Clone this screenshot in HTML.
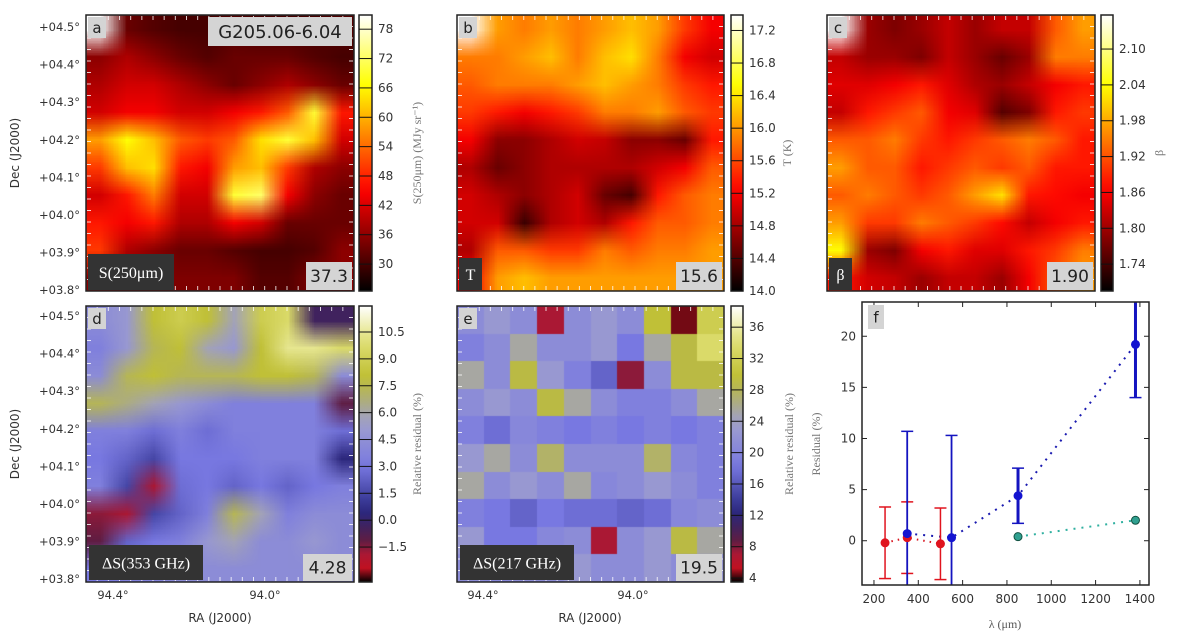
<!DOCTYPE html>
<html><head><meta charset="utf-8">
<style>
html,body{margin:0;padding:0;background:#fff;width:1200px;height:636px;overflow:hidden}
#wrap{position:relative;width:1200px;height:636px}
canvas{position:absolute}
svg{position:absolute;left:0;top:0}
</style></head><body>
<div id="wrap">
<canvas id="ca" width="268" height="276" style="left:86px;top:15px"></canvas>
<canvas id="cb" width="267" height="276" style="left:457px;top:15px"></canvas>
<canvas id="cc" width="268" height="276" style="left:827px;top:15px"></canvas>
<canvas id="cd" width="268" height="276" style="left:86px;top:306px"></canvas>
<canvas id="ce" width="267" height="276" style="left:457px;top:306px"></canvas>
<svg id="svg" width="1200" height="636"></svg>
</div>
<script>
// ---- heatmap data (normalized colour-scale values, -1 = masked) ----
const gridA=[
[-1,0.15,0.12,0.1,0.1,0.12,0.1,0.1,0.1,0.12],
[0.2,0.25,0.2,0.15,0.12,0.15,0.15,0.15,0.12,0.1],
[0.25,0.3,0.3,0.25,0.2,0.15,0.2,0.25,0.2,0.15],
[0.3,0.35,0.35,0.3,0.3,0.35,0.4,0.5,0.8,0.4],
[0.6,0.75,0.65,0.5,0.45,0.5,0.7,0.8,0.65,0.3],
[0.45,0.65,0.7,0.4,0.35,0.6,0.65,0.45,0.25,0.2],
[0.3,0.4,0.55,0.3,0.3,0.8,0.85,0.35,0.2,0.15],
[0.4,0.35,0.4,0.25,0.25,0.35,0.3,0.15,0.15,0.15],
[0.45,0.25,0.2,0.15,0.15,0.12,0.1,0.1,0.12,0.2],
[0.2,0.18,0.18,0.18,0.18,0.18,0.12,0.12,0.18,0.2]];
const gridB=[
[-1,0.6,0.55,0.6,0.55,0.6,0.65,0.6,0.45,0.35],
[0.55,0.55,0.6,0.65,0.55,0.65,0.7,0.55,0.35,0.3],
[0.5,0.55,0.55,0.55,0.6,0.65,0.6,0.55,0.45,0.4],
[0.45,0.4,0.35,0.4,0.45,0.55,0.55,0.6,0.5,0.45],
[0.35,0.2,0.2,0.25,0.3,0.28,0.2,0.2,0.15,0.4],
[0.25,0.15,0.2,0.25,0.25,0.25,0.25,0.3,0.35,0.5],
[0.3,0.25,0.2,0.25,0.3,0.15,0.1,0.4,0.5,0.55],
[0.3,0.3,0.08,0.25,0.3,0.25,0.4,0.5,0.5,0.55],
[0.25,0.5,0.5,0.45,0.45,0.55,0.5,0.55,0.55,0.6],
[0.35,0.6,0.65,0.6,0.6,0.6,0.6,0.6,0.6,0.6]];
const gridC=[
[-1,0.22,0.18,0.22,0.28,0.22,0.28,0.28,0.5,0.6],
[0.28,0.22,0.22,0.18,0.28,0.22,0.15,0.22,0.55,0.55],
[0.32,0.32,0.35,0.4,0.32,0.25,0.22,0.28,0.35,0.4],
[0.28,0.4,0.45,0.5,0.35,0.32,0.12,0.18,0.4,0.45],
[0.5,0.5,0.55,0.45,0.4,0.45,0.5,0.55,0.5,0.4],
[0.6,0.5,0.5,0.4,0.45,0.5,0.45,0.5,0.4,0.4],
[0.5,0.55,0.5,0.45,0.5,0.6,0.7,0.4,0.38,0.35],
[0.6,0.45,0.45,0.55,0.5,0.45,0.38,0.28,0.35,0.4],
[0.75,0.22,0.18,0.35,0.4,0.32,0.32,0.4,0.45,0.55],
[0.4,0.3,0.28,0.22,0.28,0.28,0.22,0.35,0.5,0.6]];
const gridD=[
[0.5,0.55,0.75,0.8,0.75,0.6,0.8,0.85,0.2,0.2],
[0.45,0.55,0.7,0.75,0.6,0.55,0.75,0.9,0.9,0.85],
[0.5,0.7,0.75,0.7,0.7,0.7,0.75,0.75,0.7,0.5],
[0.7,0.65,0.6,0.55,0.5,0.45,0.45,0.45,0.45,0.15],
[0.45,0.45,0.4,0.45,0.4,0.45,0.45,0.45,0.45,0.4],
[0.42,0.38,0.32,0.42,0.42,0.42,0.45,0.45,0.45,0.25],
[0.45,0.32,0.1,0.4,0.42,0.38,0.42,0.38,0.42,0.45],
[0.12,0.1,0.32,0.38,0.45,0.7,0.6,0.45,0.5,0.5],
[0.15,0.38,0.42,0.45,0.55,0.6,0.5,0.5,0.55,0.5],
[0.42,0.45,0.45,0.5,0.5,0.5,0.5,0.5,0.5,0.5]];
const gridE=[
[0.5,0.55,0.5,0.1,0.5,0.55,0.5,0.75,0.03,0.8],
[0.45,0.5,0.62,0.5,0.5,0.55,0.42,0.62,0.72,0.85],
[0.62,0.5,0.72,0.55,0.45,0.38,0.12,0.5,0.72,0.72],
[0.5,0.55,0.5,0.72,0.62,0.5,0.45,0.45,0.5,0.62],
[0.45,0.4,0.48,0.45,0.42,0.45,0.42,0.45,0.42,0.45],
[0.55,0.62,0.5,0.68,0.5,0.5,0.5,0.68,0.48,0.45],
[0.62,0.5,0.55,0.5,0.62,0.48,0.5,0.55,0.5,0.45],
[0.45,0.42,0.38,0.42,0.4,0.4,0.38,0.4,0.48,0.5],
[0.55,0.42,0.42,0.48,0.5,0.1,0.5,0.55,0.72,0.62],
[0.5,0.48,0.5,0.5,0.55,0.5,0.5,0.55,0.5,0.55]];
// colourbar ticks
const cbTicksA=[30,36,42,48,54,60,66,72,78]; const cbRangeA=[24.5,80.9];
const cbTicksB=[14.0,14.4,14.8,15.2,15.6,16.0,16.4,16.8,17.2]; const cbRangeB=[14.0,17.39];
const cbTicksC=[1.74,1.80,1.86,1.92,1.98,2.04,2.10]; const cbRangeC=[1.695,2.157];
const cbTicksD=[-1.5,0.0,1.5,3.0,4.5,6.0,7.5,9.0,10.5]; const cbRangeD=[-3.45,11.95];
const cbTicksE=[4,8,12,16,20,24,28,32,36]; const cbRangeE=[3.5,38.7];
// panel f data
const lamRed=[250,350,500]; const resRed=[-0.2,0.3,-0.3]; const errRed=[3.5,3.5,3.5];
const lamBlue=[350,550,850,1380]; const resBlue=[0.7,0.3,4.4,19.2]; const errBlue=[10,10,2.7,5.2];
const lamTeal=[850,1380]; const resTeal=[0.4,2.0];
const fXTicks=[200,400,600,800,1000,1200,1400]; const fYTicks=[0,5,10,15,20];

function hot(v){const r=Math.min(1,Math.max(0,v/0.365)),g=Math.min(1,Math.max(0,(v-0.365)/0.381)),b=Math.min(1,Math.max(0,(v-0.746)/0.254));return [r*255,g*255,b*255];}
const resStops=[[0,[0,0,0]],[0.06,[230,20,40]],[0.16,[80,30,70]],[0.26,[40,40,130]],[0.42,[120,120,225]],[0.58,[160,160,205]],[0.64,[170,170,140]],[0.74,[190,190,50]],[0.88,[225,225,120]],[1,[255,255,255]]];
function resc(v){for(let i=1;i<resStops.length;i++){if(v<=resStops[i][0]){const a=resStops[i-1],b=resStops[i],t=(v-a[0])/(b[0]-a[0]);return a[1].map((c,k)=>c+(b[1][k]-c)*t);}}return [255,255,255];}

function drawGrid(id,grid,cmap,smooth){
  const cv=document.getElementById(id),ctx=cv.getContext('2d');
  const rows=grid.length,cols=grid[0].length;
  const t=document.createElement('canvas');t.width=cols;t.height=rows;
  const tc=t.getContext('2d'),img=tc.createImageData(cols,rows);
  for(let r=0;r<rows;r++)for(let c=0;c<cols;c++){
    const v=grid[r][c],col=v<0?[255,255,255]:cmap(v),o=(r*cols+c)*4;
    img.data[o]=col[0];img.data[o+1]=col[1];img.data[o+2]=col[2];img.data[o+3]=255;}
  tc.putImageData(img,0,0);
  ctx.imageSmoothingEnabled=smooth;
  ctx.drawImage(t,0,0,cv.width,cv.height);
}
drawGrid('ca',gridA,hot,true);drawGrid('cb',gridB,hot,true);drawGrid('cc',gridC,hot,true);
drawGrid('cd',gridD,resc,true);drawGrid('ce',gridE,resc,false);

const NS='http://www.w3.org/2000/svg',svg=document.getElementById('svg');
function el(tag,attrs,parent){const e=document.createElementNS(NS,tag);for(const k in attrs)e.setAttribute(k,attrs[k]);(parent||svg).appendChild(e);return e;}
function txt(x,y,s,attrs){const e=el('text',Object.assign({x:x,y:y,'font-family':'"DejaVu Sans","Liberation Sans",sans-serif','font-size':12,fill:'#333'},attrs||{}));e.textContent=s;return e;}

const defs=el('defs',{});
function grad(id,fn){const g=el('linearGradient',{id:id,x1:0,y1:1,x2:0,y2:0},defs);for(let i=0;i<=20;i++){const c=fn(i/20);el('stop',{offset:i/20,'stop-color':`rgb(${c.map(Math.round).join(',')})`},g);}}
grad('ghot',hot);grad('gres',resc);

function frame(x0,y0,x1,y1,name){const r=el('rect',{x:x0,y:y0,width:x1-x0,height:y1-y0,fill:'none',stroke:'#222','stroke-width':1.5});}
function fmt(t,dec){return (t<0?'\u2212':'')+Math.abs(t).toFixed(dec);}
function colorbar(x0,y0,x1,y1,g,ticks,range,dec,name){
  const grp=el('g',{});
  el('rect',{x:x0,y:y0,width:x1-x0,height:y1-y0,fill:'url(#'+g+')',stroke:'#222','stroke-width':1.5},grp);
  ticks.forEach(t=>{const y=y1-(t-range[0])/(range[1]-range[0])*(y1-y0);
    el('line',{x1:x0,x2:x1,y1:y,y2:y,stroke:'#111','stroke-width':1},grp);
    const lab=txt(x1+6,y+4,fmt(t,dec),{});
    grp.appendChild(lab);});
}
function labelBox(x,y,w,h,s,dark,fs,serif,name){
  el('rect',{x:x,y:y,width:w,height:h,fill:dark?'#333':'#d4d4d4'});
  const t=txt(x+w/2,y+h/2+fs*0.36,s,{'text-anchor':'middle','font-size':fs,fill:dark?'#fff':'#222','font-family':serif?'"Liberation Serif",serif':'"DejaVu Sans","Liberation Sans",sans-serif'});
  
}
function decAxis(yTop,xRight){const labs=['+04.5°','+04.4°','+04.3°','+04.2°','+04.1°','+04.0°','+03.9°','+03.8°'];
  labs.forEach((s,i)=>{const t=txt(xRight,yTop+i*37.6+4,s,{'text-anchor':'end','font-size':11.5});});}
function edgeTicks(x0,y0,x1,y1){for(let i=1;i<24;i++){const y=y0+i*(y1-y0)/24;el('line',{x1:x0+1,x2:x0+5,y1:y,y2:y,stroke:'#fff','stroke-width':1,opacity:0.8});el('line',{x1:x1-5,x2:x1-1,y1:y,y2:y,stroke:'#fff','stroke-width':1,opacity:0.8});}
  for(let i=1;i<24;i++){const x=x0+i*(x1-x0)/24;el('line',{x1:x,x2:x,y1:y1-1,y2:y1-5,stroke:'#fff','stroke-width':1,opacity:0.8});el('line',{x1:x,x2:x,y1:y0+1,y2:y0+5,stroke:'#fff','stroke-width':1,opacity:0.8});}}

[[86,15,354,291],[457,15,724,291],[827,15,1095,291],[86,306,354,582],[457,306,724,582]].forEach(p=>edgeTicks(...p));
frame(86,15,354,291,'panel-a-frame');frame(457,15,724,291,'panel-b-frame');frame(827,15,1095,291,'panel-c-frame');
frame(86,306,354,582,'panel-d-frame');frame(457,306,724,582,'panel-e-frame');
colorbar(359,15,372,291,'ghot',cbTicksA,cbRangeA,0,'colorbar-a');
colorbar(731,15,743,291,'ghot',cbTicksB,cbRangeB,1,'colorbar-b');
colorbar(1101,15,1113,291,'ghot',cbTicksC,cbRangeC,2,'colorbar-c');
colorbar(359,306,372,582,'gres',cbTicksD,cbRangeD,1,'colorbar-d');
colorbar(731,306,743,582,'gres',cbTicksE,cbRangeE,0,'colorbar-e');

labelBox(88,17,18,21,'a',false,15,false,'panel-label-a');
labelBox(208,17,144,29,'G205.06-6.04',false,18,false,'source-name');
labelBox(88,254,86,36,'S(250\u03bcm)',true,16,true,'map-label-s250');
labelBox(306,262,46,28,'37.3',false,17,false,'median-a');
labelBox(459,17,18,21,'b',false,15,false,'panel-label-b');
labelBox(459,258,23,32,'T',true,16,true,'map-label-t');
labelBox(676,262,46,28,'15.6',false,17,false,'median-b');
labelBox(829,17,18,21,'c',false,15,false,'panel-label-c');
labelBox(829,258,23,32,'\u03b2',true,16,true,'map-label-beta');
labelBox(1047,262,46,28,'1.90',false,17,false,'median-c');
labelBox(88,308,18,21,'d',false,15,false,'panel-label-d');
labelBox(89,545,114,35,'\u0394S(353 GHz)',true,16,true,'map-label-ds353');
labelBox(303,554,49,27,'4.28',false,17,false,'median-d');
labelBox(459,308,18,21,'e',false,15,false,'panel-label-e');
labelBox(460,545,114,35,'\u0394S(217 GHz)',true,16,true,'map-label-ds217');
labelBox(676,554,46,27,'19.5',false,17,false,'median-e');

decAxis(27,80);decAxis(316,80);
[[113,265],[483,633]].forEach(xs=>{txt(xs[0],599,'94.4°',{'text-anchor':'middle','font-size':11.5});txt(xs[1],599,'94.0°',{'text-anchor':'middle','font-size':11.5});});
let t;
t=txt(220,622,'RA (J2000)',{'text-anchor':'middle','font-size':12});
t=txt(590,622,'RA (J2000)',{'text-anchor':'middle','font-size':12});
t=txt(0,0,'Dec (J2000)',{'text-anchor':'middle','font-size':12,transform:'translate(19,153) rotate(-90)'});
t=txt(0,0,'Dec (J2000)',{'text-anchor':'middle','font-size':12,transform:'translate(19,444) rotate(-90)'});
const serif={'font-family':'"Liberation Serif",serif','fill':'#777','font-size':12,'text-anchor':'middle'};
t=txt(0,0,'S(250\u03bcm) (MJy sr\u207b\u00b9)',Object.assign({},serif,{transform:'translate(421,153) rotate(-90)'}));
t=txt(0,0,'T (K)',Object.assign({},serif,{transform:'translate(791,153) rotate(-90)'}));
t=txt(0,0,'\u03b2',Object.assign({},serif,{transform:'translate(1163,153) rotate(-90)'}));
t=txt(0,0,'Relative residual (%)',Object.assign({},serif,{transform:'translate(421,444) rotate(-90)'}));
t=txt(0,0,'Relative residual (%)',Object.assign({},serif,{transform:'translate(793,444) rotate(-90)'}));

// panel f
const F={x0:862,y0:302,x1:1149,y1:585,xmin:146,xmax:1441,ymin:-4.33,ymax:23.35};
const fx=v=>F.x0+(v-F.xmin)/(F.xmax-F.xmin)*(F.x1-F.x0);
const fy=v=>F.y1-(v-F.ymin)/(F.ymax-F.ymin)*(F.y1-F.y0);
const fg=el('g',{});
el('clipPath',{id:'fclip'},defs).appendChild(el('rect',{x:F.x0,y:F.y0,width:F.x1-F.x0,height:F.y1-F.y0},defs));
fXTicks.forEach(v=>{el('line',{x1:fx(v),x2:fx(v),y1:F.y1,y2:F.y1-5,stroke:'#222'},fg);el('line',{x1:fx(v),x2:fx(v),y1:F.y0,y2:F.y0+5,stroke:'#222'},fg);
  const l=txt(fx(v),F.y1+18,String(v),{'text-anchor':'middle','font-size':12});});
fYTicks.forEach(v=>{el('line',{x1:F.x0,x2:F.x0+5,y1:fy(v),y2:fy(v),stroke:'#222'},fg);el('line',{x1:F.x1,x2:F.x1-5,y1:fy(v),y2:fy(v),stroke:'#222'},fg);
  const l=txt(F.x0-6,fy(v)+4,String(v),{'text-anchor':'end','font-size':12});});
t=txt(1005,628,'\u03bb (\u03bcm)',Object.assign({},serif,{fill:'#555'}));
t=txt(0,0,'Residual (%)',Object.assign({},serif,{transform:'translate(820,444) rotate(-90)'}));
const plot=el('g',{'clip-path':'url(#fclip)'},fg);
function series(xs,ys,color,dash){el('polyline',{points:xs.map((x,i)=>fx(x)+','+fy(ys[i])).join(' '),fill:'none',stroke:color,'stroke-width':2,'stroke-dasharray':dash},plot);}
function errs(xs,ys,es,color,w){xs.forEach((x,i)=>{const X=fx(x),a=fy(ys[i]+es[i]),b=fy(ys[i]-es[i]);
  const e=el('line',{x1:X,x2:X,y1:a,y2:b,stroke:color,'stroke-width':w},plot);
  el('line',{x1:X-6,x2:X+6,y1:a,y2:a,stroke:color,'stroke-width':1.5},plot);el('line',{x1:X-6,x2:X+6,y1:b,y2:b,stroke:color,'stroke-width':1.5},plot);});}
function pts(xs,ys,color,edge,name){xs.forEach((x,i)=>{const c=el('circle',{cx:fx(x),cy:fy(ys[i]),r:4,fill:color,stroke:edge,'stroke-width':1},plot);});}
series(lamRed,resRed,'#d8141e','1.5 5');series(lamBlue,resBlue,'#1a1ab0','2 6');series(lamTeal,resTeal,'#30b0a0','2 6');
errs(lamRed,resRed,errRed,'#e0141e',1.5);
errs(lamBlue.slice(0,2),resBlue.slice(0,2),errBlue.slice(0,2),'#1414c0',1.8);
errs(lamBlue.slice(2),resBlue.slice(2),errBlue.slice(2),'#1414c0',3);
pts(lamRed,resRed,'#e0141e','#e0141e','point-red');pts(lamBlue,resBlue,'#1414d0','#1414d0','point-blue');pts(lamTeal,resTeal,'#30a090','#105040','point-teal');
el('rect',{x:F.x0,y:F.y0,width:F.x1-F.x0,height:F.y1-F.y0,fill:'none',stroke:'#222','stroke-width':1.5},fg);
labelBox(868,305,16,24,'f',false,15,false,'panel-label-f');
</script>
</body></html>
